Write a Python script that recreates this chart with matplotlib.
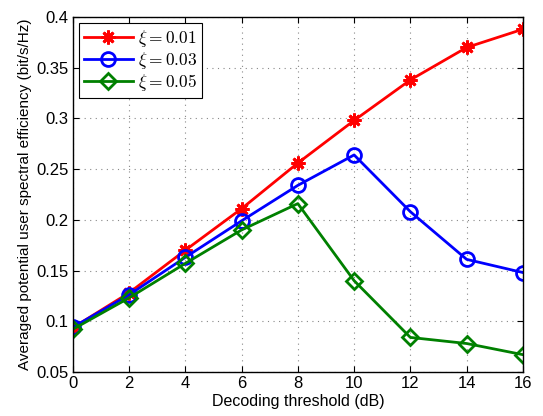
import numpy as np
import matplotlib
matplotlib.use('Agg')
import matplotlib.pyplot as plt

# ── Data ─────────────────────────────────────────────────────────────────────
threshold_db = [0, 2, 4, 6, 8, 10, 12, 14, 16]
se_xi_001 = [0.0935, 0.128, 0.170, 0.211, 0.256, 0.298, 0.338, 0.370, 0.388]
se_xi_003 = [0.094, 0.126, 0.163, 0.199, 0.234, 0.264, 0.208, 0.161, 0.148]
se_xi_005 = [0.092, 0.123, 0.157, 0.190, 0.216, 0.140, 0.084, 0.078, 0.067]
labels = [r'$\xi = 0.01$', r'$\xi = 0.03$', r'$\xi = 0.05$']
x_ticks = [0, 2, 4, 6, 8, 10, 12, 14, 16]
y_ticks = [0.05, 0.1, 0.15, 0.2, 0.25, 0.3, 0.35, 0.4]

plt.rcParams['font.family'] = ['Liberation Sans', 'DejaVu Sans']
plt.rcParams['mathtext.fontset'] = 'cm'

fig = plt.figure(figsize=(5.43, 4.16), dpi=100)
ax = fig.add_axes([0.134, 0.106, 0.829, 0.853])

ax.plot(threshold_db, se_xi_001, color='#ff0000', lw=2, marker=(8, 2, 0),
        ms=10, mew=2, label=labels[0])
ax.plot(threshold_db, se_xi_003, color='#0000ff', lw=2, marker='o',
        ms=10, mfc='none', mew=2, label=labels[1])
ax.plot(threshold_db, se_xi_005, color='#008000', lw=2, marker='D',
        ms=8.5, mfc='none', mew=2, label=labels[2])

ax.set_xlim(0, 16)
ax.set_ylim(0.05, 0.4)
ax.set_xticks(x_ticks)
ax.set_yticks(y_ticks)
ax.set_yticklabels(['0.05', '0.1', '0.15', '0.2', '0.25', '0.3', '0.35', '0.4'])
ax.tick_params(direction='in', top=True, right=True, labelsize=12,
               length=4, width=0.8, pad=3)
ax.grid(True, linestyle=(0, (1, 4)), color='#888888', linewidth=0.8)
for s in ax.spines.values():
    s.set_linewidth(1.0)

ax.set_xlabel('Decoding threshold (dB)', fontsize=11.5, labelpad=2)
ax.set_ylabel('Averaged potential user spectral efficiency (bit/s/Hz)',
              fontsize=11, labelpad=3)

leg = ax.legend(loc='upper left', fontsize=12.5, fancybox=False,
                edgecolor='black', framealpha=1, handlelength=2.8,
                borderaxespad=0.35, labelspacing=0.05, borderpad=0.3,
                handletextpad=0.3)
leg.get_frame().set_linewidth(0.8)

fig.savefig('out.png', dpi=100)
